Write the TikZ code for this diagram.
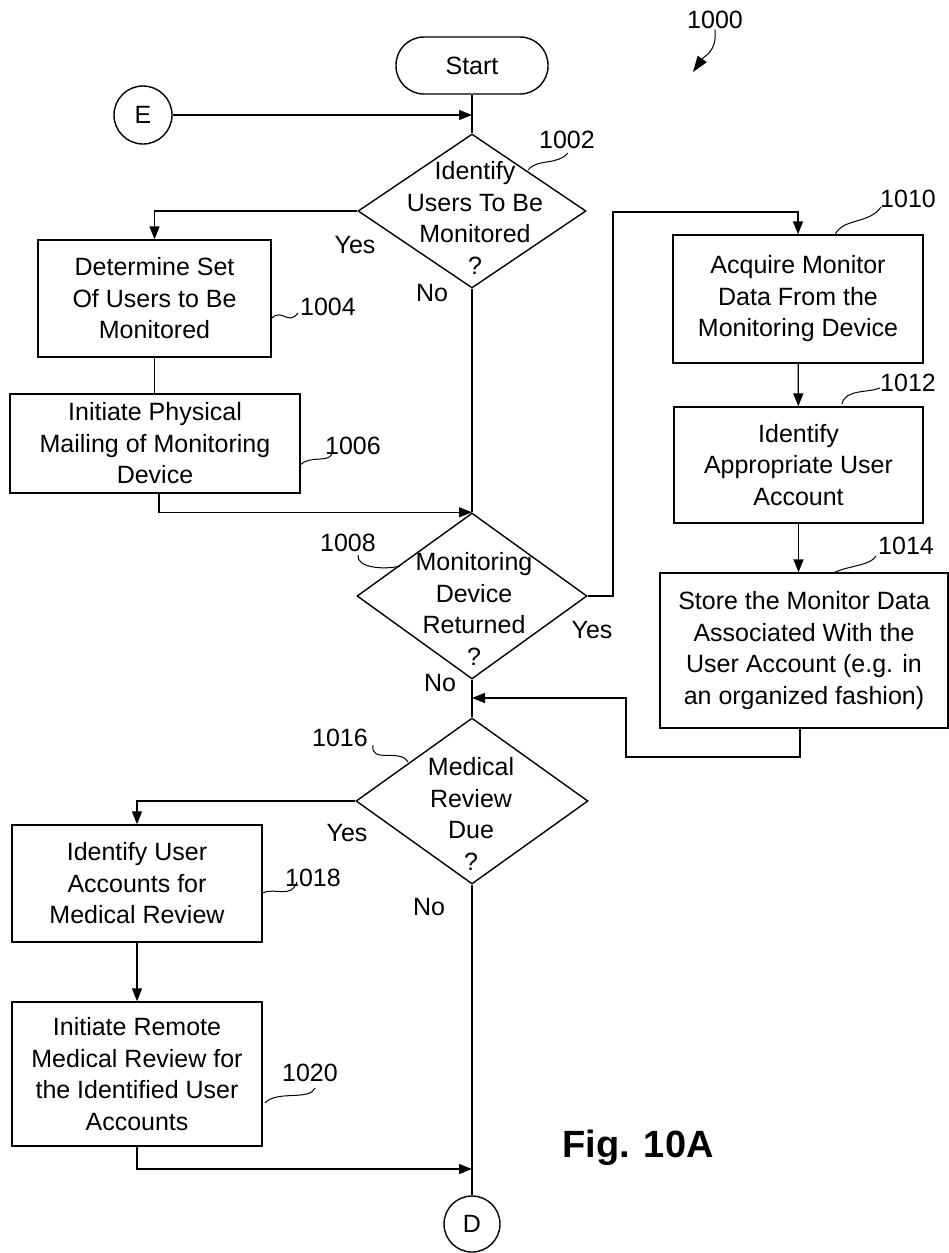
\documentclass[tikz,border=0pt]{standalone}
\usepackage{fontspec}
\setmainfont{Liberation Sans}
\usetikzlibrary{arrows.meta,shapes.geometric,calc}

\begin{document}
\begin{tikzpicture}[x=1pt,y=-1pt,line width=1.4pt,
  every node/.style={font=\fontsize{25}{31.5}\selectfont},
  box/.style={draw,rectangle,align=center,inner sep=0pt},
  decision/.style={draw,diamond,inner sep=0pt},
  txt/.style={align=center,inner sep=0pt},
  arr/.style={-{Triangle[length=13pt,width=10pt]}},
  lead/.style={line width=1pt},
  refnum/.style={inner sep=0pt}]
\useasboundingbox (0,0) rectangle (949,1253);

% terminals and connectors
\node[draw,rounded corners=28pt,minimum width=152pt,minimum height=57pt,inner sep=0pt] (start) at (472,65.5) {Start};
\node[draw,circle,minimum size=58pt,inner sep=0pt] (E) at (143,115) {E};
\node[draw,circle,minimum size=56pt,inner sep=0pt] (D) at (472,1224) {D};

% decisions
\node[decision,minimum width=228pt,minimum height=154pt] (d1) at (472,211) {};
\node[txt] (t1) at (475,218) {Identify\\Users To Be\\Monitored\\?};
\node[decision,minimum width=230pt,minimum height=166pt] (d2) at (472,596) {};
\node[txt] (t2) at (474,609) {Monitoring\\Device\\Returned\\?};
\node[decision,minimum width=232pt,minimum height=166pt] (d3) at (472,801) {};
\node[txt] (t3) at (471,814) {Medical\\Review\\Due\\?};

% process boxes
\node[box,minimum width=233pt,minimum height=117pt] (b1004) at (154.5,298.5) {Determine Set\\Of Users to Be\\Monitored};
\node[box,minimum width=290pt,minimum height=99pt] (b1006) at (155,443.5) {Initiate Physical\\Mailing of Monitoring\\Device};
\node[box,minimum width=250pt,minimum height=128pt] (b1010) at (798,299) {Acquire Monitor\\Data From the\\Monitoring Device};
\node[box,minimum width=249pt,minimum height=116pt] (b1012) at (798.5,465) {Identify\\Appropriate User\\Account};
\node[box,minimum width=288pt,minimum height=155pt] (b1014) at (804,650.5) {Store the Monitor Data\\Associated With the\\User Account (e.g. in\\an organized fashion)};
\node[box,minimum width=250pt,minimum height=117pt] (b1018) at (137,883.5) {Identify User\\Accounts for\\Medical Review};
\node[box,minimum width=250pt,minimum height=144pt] (b1020) at (137,1074) {Initiate Remote\\Medical Review for\\the Identified User\\Accounts};

% branch labels
\node[txt] (y1) at (355,245) {Yes};
\node[txt] (n1) at (432,293) {No};
\node[txt] (y2) at (592,630) {Yes};
\node[txt] (n2) at (440,683) {No};
\node[txt] (y3) at (347,833) {Yes};
\node[txt] (n3) at (429,907) {No};

% reference numerals
\node[refnum] (r1000) at (715,20) {1000};
\node[refnum] (r1002) at (567,140) {1002};
\node[refnum] (r1004) at (328,307) {1004};
\node[refnum] (r1006) at (353,446) {1006};
\node[refnum] (r1008) at (348,543) {1008};
\node[refnum] (r1010) at (908,199) {1010};
\node[refnum] (r1012) at (908,383) {1012};
\node[refnum] (r1014) at (906,546) {1014};
\node[refnum] (r1016) at (340,738) {1016};
\node[refnum] (r1018) at (313,878) {1018};
\node[refnum] (r1020) at (310,1073) {1020};

\node[inner sep=0pt,font=\fontsize{38}{44}\selectfont\bfseries] (fig) at (638,1148) {Fig. 10A};

% flow lines
\coordinate (eJoin) at (start.south |- E.east);
\draw (start) -- (d1);
\draw[arr] (E) -- (eJoin);
\draw[arr] (d1.west) -| (b1004.north);
\draw (b1004.south) -- (b1004.south |- b1006.north);
\draw (d1.south) -- (d2.north);
\draw[arr] ($(b1006.south)+(4,0)$) |- (d2.north);

\coordinate (yesUp) at (613,212);
\draw[arr] (d2.east) -| (yesUp) -| (b1010.north);
\draw[arr] (b1010) -- (b1012);
\draw[arr] (b1012.south) -- (b1012.south |- b1014.north);

\coordinate (loopLow) at (800,757);
\coordinate (loopHigh) at (626,698);
\coordinate (mJoin) at (d2.south |- loopHigh);
\draw[arr] (b1014.south -| loopLow) -- (loopLow) -| (loopHigh) -- (mJoin);
\draw (d2.south) -- (d3.north);

\draw[arr] (d3.west) -| (b1018.north);
\draw[arr] (b1018) -- (b1020);
\coordinate (dJoin) at (472,1169);
\draw[arr] (b1020.south) |- (dJoin);
\draw (d3.south) -- (D.north);

% leader lines
\draw[lead] (528,170) .. controls (538,158) and (556,166) .. (568,153);
\draw[lead] (272,318) .. controls (282,308) and (288,326) .. (298,313);
\draw[lead] (300,465) .. controls (310,455) and (328,463) .. (332,454);
\draw[lead] (358,555) .. controls (356,568) and (385,570) .. (400,566);
\draw[lead] (835,235) .. controls (842,218) and (870,224) .. (881,207);
\draw[lead] (842,404) .. controls (845,389) and (868,393) .. (880,388);
\draw[lead] (833,573) .. controls (850,565) and (870,566) .. (876,556);
\draw[lead] (373,745) .. controls (370,764) and (400,748) .. (408,762);
\draw[lead] (262,893) .. controls (276,887) and (291,899) .. (297,882);
\draw[lead] (265,1103) .. controls (276,1090) and (310,1101) .. (315,1088);
\draw[lead,-{Triangle[length=16pt,width=11pt]}] (r1000.south) .. controls (717,52) and (705,55) .. (693,72);
\end{tikzpicture}
\end{document}
